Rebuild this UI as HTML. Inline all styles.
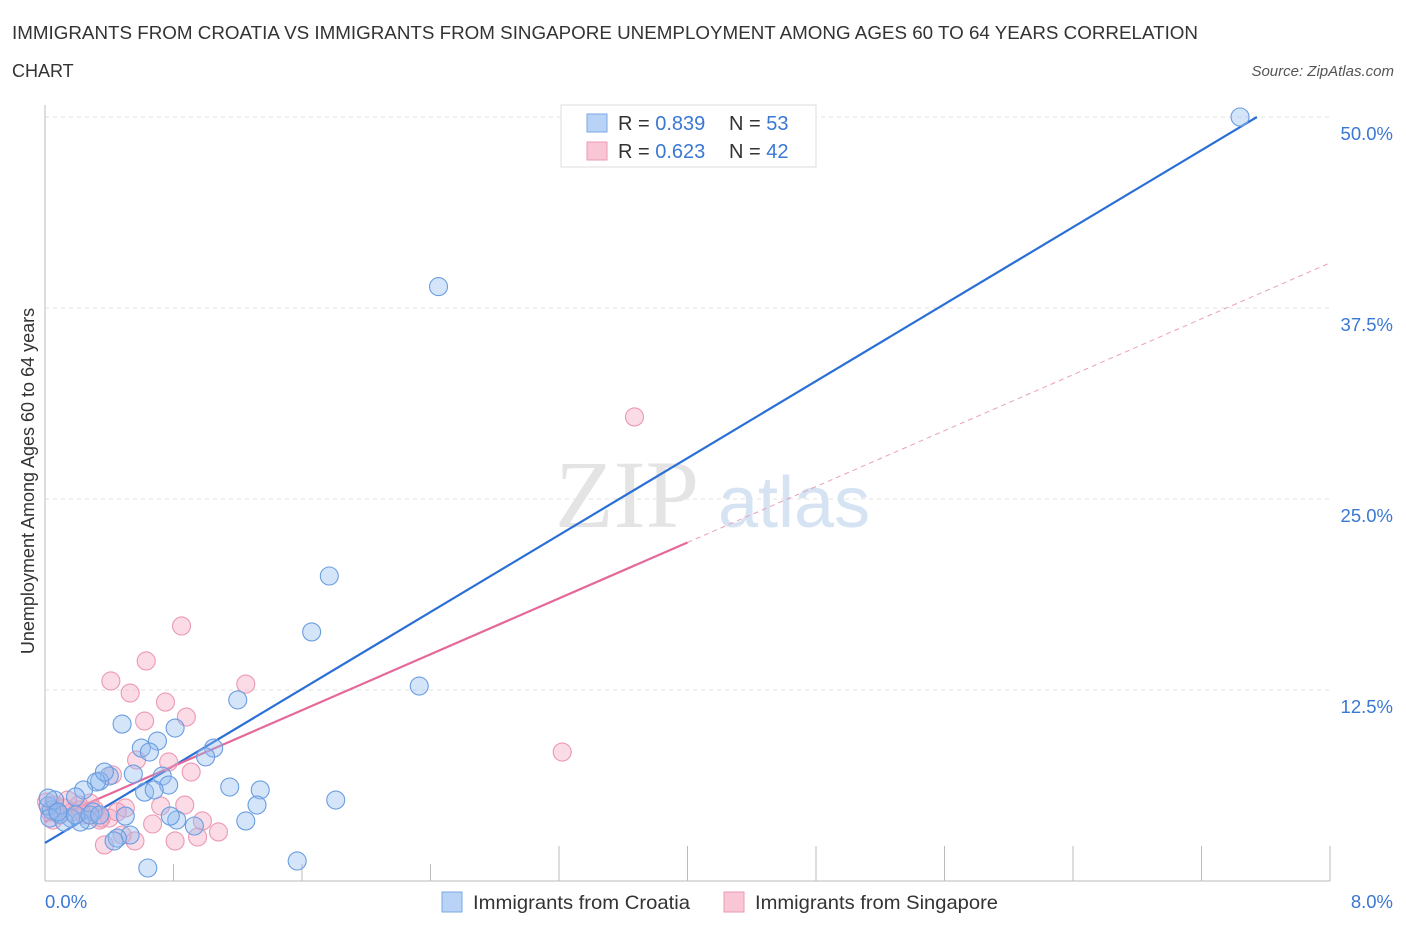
<!DOCTYPE html>
<html><head><meta charset="utf-8"><style>
body{margin:0;background:#fff;font-family:"Liberation Sans",sans-serif;}
</style></head><body>
<svg width="1406" height="930" xmlns="http://www.w3.org/2000/svg" font-family="Liberation Sans, sans-serif">
<text x="12" y="39" font-size="18" fill="#333" textLength="1186" lengthAdjust="spacingAndGlyphs">IMMIGRANTS FROM CROATIA VS IMMIGRANTS FROM SINGAPORE UNEMPLOYMENT AMONG AGES 60 TO 64 YEARS CORRELATION</text>
<text x="12" y="77" font-size="18" fill="#333">CHART</text>
<text x="1394" y="76" font-size="15" fill="#555" font-style="italic" text-anchor="end">Source: ZipAtlas.com</text>
<g id="grid"></g>
<text x="555" y="527" font-size="96" fill="#e4e4e4" font-family="Liberation Serif, serif">ZIP</text>
<text x="718" y="527" font-size="72" fill="#d5e3f3">atlas</text>
<g id="lines"></g>
<g id="points"></g>
<text x="13" y="0" transform="translate(34,494) rotate(-90)" font-size="18" fill="#333" text-anchor="middle">Unemployment Among Ages 60 to 64 years</text>
<g>
<rect x="561" y="105" width="255" height="62" fill="#fff" stroke="#ddd"/>
<rect x="587" y="114" width="20" height="18" fill="#b8d3f5" stroke="#7aa8e6"/>
<text x="618" y="130" font-size="20" fill="#333">R = <tspan fill="#3a78d4">0.839</tspan></text>
<text x="729" y="130" font-size="20" fill="#333">N = <tspan fill="#3a78d4">53</tspan></text>
<rect x="587" y="142" width="20" height="18" fill="#f9c6d5" stroke="#ec9ab3"/>
<text x="618" y="158" font-size="20" fill="#333">R = <tspan fill="#3a78d4">0.623</tspan></text>
<text x="729" y="158" font-size="20" fill="#333">N = <tspan fill="#3a78d4">42</tspan></text>
</g>
<g>
<rect x="442" y="892" width="20" height="20" fill="#b8d3f5" stroke="#7aa8e6"/>
<text x="473" y="909" font-size="19.5" fill="#333" textLength="217" lengthAdjust="spacingAndGlyphs">Immigrants from Croatia</text>
<rect x="724" y="892" width="20" height="20" fill="#f9c6d5" stroke="#ec9ab3"/>
<text x="755" y="909" font-size="19.5" fill="#333" textLength="243" lengthAdjust="spacingAndGlyphs">Immigrants from Singapore</text>
</g>
</svg>
<script>
const yTicks=[12.5,25,37.5,50];
const yTickLabels=["12.5%","25.0%","37.5%","50.0%"];
const xTickLabels=["0.0%","8.0%"];
const croatiaX=[7.44,2.45,1.77,1.66,2.33,1.20,0.48,0.81,0.60,0.70,0.65,1.05,1.00,0.55,0.40,0.34,0.32,0.37,0.73,0.77,0.62,0.68,1.15,1.34,1.32,1.81,0.24,0.19,0.50,0.30,1.25,0.82,0.93,0.78,0.27,0.22,0.16,0.09,0.04,0.02,0.06,0.53,0.45,0.43,1.57,0.64,0.03,0.12,0.19,0.28,0.34,0.02,0.08];
const croatiaY=[50.0,38.9,19.96,16.3,12.76,11.85,10.27,10.01,8.70,9.16,8.44,8.70,8.12,7.00,6.87,6.54,6.48,7.13,6.87,6.28,5.82,5.96,6.15,5.96,4.97,5.30,5.96,5.50,4.25,4.52,3.93,3.99,3.60,4.25,3.99,3.86,4.12,4.38,4.65,4.91,5.30,3.01,2.81,2.62,1.31,0.85,4.12,3.86,4.32,4.32,4.32,5.43,4.52];
const singX=[3.67,0.85,0.63,0.41,1.25,0.53,0.75,0.88,0.62,0.77,0.91,0.57,0.42,0.87,0.50,0.98,0.67,0.40,0.34,1.08,0.48,0.56,0.81,0.95,0.37,3.22,0.28,0.21,0.12,0.06,0.03,0.09,0.17,0.24,0.31,0.01,0.05,0.14,0.22,0.72,0.45,0.35];
const singY=[30.37,16.69,14.40,13.09,12.89,12.30,11.71,10.73,10.47,7.79,7.13,7.92,6.94,4.97,4.78,3.93,3.73,4.12,3.99,3.21,3.01,2.62,2.62,2.88,2.36,8.44,5.10,4.97,4.78,4.97,4.52,4.32,4.52,4.32,4.65,5.17,3.99,5.30,4.65,4.91,4.52,4.12];
const croatiaTrend=[2.49,(50-2.49)/7.545];
const singTrend=[3.86,(40.45-3.86)/8];
const NS="http://www.w3.org/2000/svg";
const X=v=>45+v/8*1285, Y=v=>881-v/50*764;
function mk(tag,attrs,parent){const e=document.createElementNS(NS,tag);for(const k in attrs)e.setAttribute(k,attrs[k]);parent.appendChild(e);return e;}
const grid=document.getElementById('grid');
yTicks.forEach((t,i)=>{
 const l=mk('line',{x1:45,x2:1330,y1:Y(t),y2:Y(t),stroke:'#e2e2e2','stroke-dasharray':'4,4'},grid);
 
 
 const tx=mk('text',{x:1393,y:Y(t)+23,'font-size':18.5,fill:'#3a78d4','text-anchor':'end'},grid);
 tx.textContent=yTickLabels[i];
 
 
});
const ax=mk('line',{x1:45,x2:45,y1:105,y2:881,stroke:'#bbb'},grid);


const bx=mk('line',{x1:45,x2:1330,y1:881,y2:881,stroke:'#bbb'},grid);


for(let i=1;i<=10;i++){
 const t=mk('line',{x1:X(i*0.8),x2:X(i*0.8),y1:i>=4?846:864,y2:881,stroke:'#bbb'},grid);
 
 
}
[[0,'start',45],[1,'end',1393]].forEach(([i,a,x])=>{
 const t=mk('text',{x:x,y:908,'font-size':18.5,fill:'#3a78d4','text-anchor':a},grid);
 t.textContent=xTickLabels[i];
 
 
});
const lines=document.getElementById('lines');
const cx1=(50-croatiaTrend[0])/croatiaTrend[1];
const b=mk('line',{x1:X(0),y1:Y(croatiaTrend[0]),x2:X(cx1),y2:Y(50),stroke:'#2a6fd6','stroke-width':2.2},lines);


const p=mk('line',{x1:X(0),y1:Y(singTrend[0]),x2:X(4),y2:Y(singTrend[0]+4*singTrend[1]),stroke:'#e5689a','stroke-width':2.2},lines);


const pd=mk('line',{x1:X(4),y1:Y(singTrend[0]+4*singTrend[1]),x2:X(8),y2:Y(singTrend[0]+8*singTrend[1]),stroke:'#eaa0b8','stroke-width':1,'stroke-dasharray':'5,4'},lines);


const pts=document.getElementById('points');
singX.forEach((x,i)=>{
 const c=mk('circle',{cx:X(x),cy:Y(singY[i]),r:9,fill:'rgba(245,165,192,0.4)',stroke:'#ec98b3','stroke-width':1.1},pts);
 
 
});
croatiaX.forEach((x,i)=>{
 const c=mk('circle',{cx:X(x),cy:Y(croatiaY[i]),r:9,fill:'rgba(147,188,240,0.4)',stroke:'#6a9de0','stroke-width':1.1},pts);
 
 
});
</script>
</body></html>
